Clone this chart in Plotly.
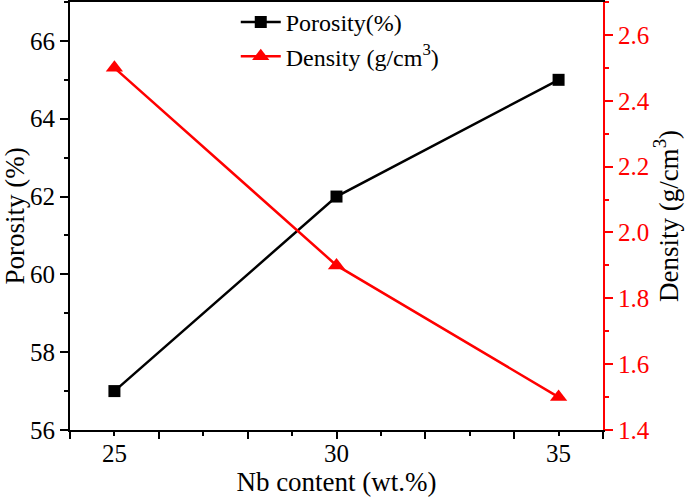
import plotly.graph_objects as go

nb_content = [25, 30, 35]
porosity = [57, 62, 65]
density = [2.5, 1.9, 1.5]

x_labels = [25, 30, 35]

FONT = "Liberation Serif, Times New Roman, serif"
FS = 25
TFS = 27

fig = go.Figure()
fig.add_trace(go.Scatter(
    x=nb_content, y=porosity, name="Porosity(%)", mode="lines+markers",
    line=dict(color="black", width=2.5),
    marker=dict(symbol="square", size=12, color="black"),
    yaxis="y"))
fig.add_trace(go.Scatter(
    x=nb_content, y=density, name="Density (g/cm<sup>3</sup>)", mode="lines+markers",
    line=dict(color="red", width=2.5),
    marker=dict(symbol="triangle-up", size=15, color="red"),
    yaxis="y2"))
# invisible carrier so the label axis is drawn
fig.add_trace(go.Scatter(
    x=nb_content, y=porosity, mode="markers", marker=dict(opacity=0),
    xaxis="x2", yaxis="y", showlegend=False, hoverinfo="skip"))

fig.update_layout(
    width=685, height=497,
    margin=dict(l=70, r=82, t=2, b=67, autoexpand=False),
    paper_bgcolor="white", plot_bgcolor="white",
    font=dict(family=FONT, size=FS, color="black"),
    showlegend=True,
    legend=dict(x=0.311, y=1.005, xanchor="left", yanchor="top",
                bgcolor="rgba(0,0,0,0)", font=dict(size=24, family=FONT),
                tracegroupgap=0, itemwidth=40),
    xaxis=dict(range=[24, 36], tickmode="linear", tick0=24, dtick=2, ticks="outside",
               ticklen=7, tickwidth=1.5, tickcolor="black", showticklabels=False,
               minor=dict(dtick=1, tick0=24, ticks="outside", ticklen=4, tickwidth=1.5, tickcolor="black"),
               showline=True, linecolor="black", linewidth=2, mirror=True,
               showgrid=False, zeroline=False, automargin=False),
    xaxis2=dict(range=[24, 36], overlaying="x", anchor="y", side="bottom",
                tickvals=x_labels, ticks="", showline=False, showgrid=False, zeroline=False,
                automargin=False, ticklabelstandoff=6,
                tickfont=dict(size=FS, family=FONT, color="black"),
                title=dict(text="Nb content (wt.%)", font=dict(size=TFS, family=FONT), standoff=0)),
    yaxis=dict(range=[56, 67], tickvals=[56, 58, 60, 62, 64, 66], ticks="outside",
               ticklen=8, tickwidth=1.5, tickcolor="black",
               minor=dict(dtick=1, tick0=56, ticks="outside", ticklen=4, tickwidth=1.5, tickcolor="black"),
               showline=True, linecolor="black", linewidth=2,
               showgrid=False, zeroline=False, automargin=False,
               title=dict(text="Porosity (%)", font=dict(size=TFS, family=FONT), standoff=0),
               tickfont=dict(size=FS, family=FONT)),
    yaxis2=dict(range=[1.4, 2.7], tickvals=[1.4, 1.6, 1.8, 2.0, 2.2, 2.4, 2.6],
                ticktext=["1.4", "1.6", "1.8", "2.0", "2.2", "2.4", "2.6"],
                overlaying="y", side="right", ticks="outside",
                ticklen=8, tickwidth=1.5, tickcolor="red",
                minor=dict(dtick=0.1, tick0=1.4, ticks="outside", ticklen=4, tickwidth=1.5, tickcolor="red"),
                showline=True, linecolor="red", linewidth=2,
                showgrid=False, zeroline=False, automargin=False,
                tickfont=dict(size=FS, color="red", family=FONT),
                title=dict(text="Density (g/cm<sup>3</sup>)", font=dict(color="black", size=TFS, family=FONT), standoff=6)),
)

fig.write_html("out.html", config={"displayModeBar": False},
               post_script="document.body.style.margin='0px';")
